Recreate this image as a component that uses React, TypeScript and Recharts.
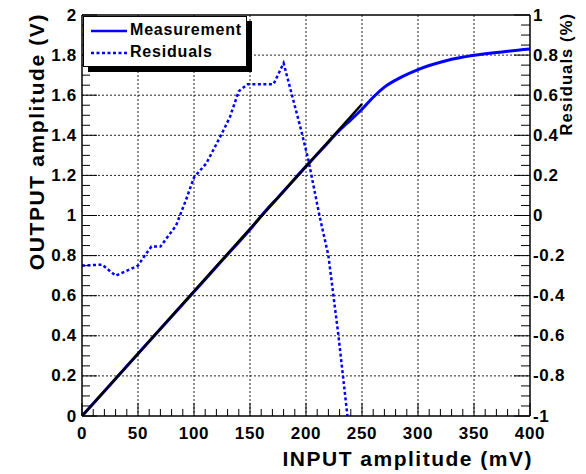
import React from 'react';
import { ComposedChart, Line, XAxis, YAxis, CartesianGrid, ReferenceLine, Legend } from 'recharts';

// ---- data ----
const measurementX = [0, 25, 50, 75, 100, 125, 150, 165, 175, 200, 215, 230, 240, 250, 260, 270, 285, 300, 325, 350, 375, 400];
const measurementY = [0, 0.155, 0.31, 0.465, 0.62, 0.775, 0.93, 1.03, 1.09, 1.245, 1.335, 1.425, 1.477, 1.53, 1.59, 1.64, 1.69, 1.728, 1.772, 1.799, 1.816, 1.83];

const residualX = [0, 18, 30, 50, 56, 62, 70, 84, 93, 100, 111, 125, 132, 140, 148, 171, 180, 195, 202, 212, 220, 229, 237];
const residualY = [-0.25, -0.245, -0.3, -0.25, -0.2, -0.155, -0.155, -0.05, 0.08, 0.19, 0.26, 0.41, 0.49, 0.62, 0.655, 0.655, 0.76, 0.44, 0.28, 0.0, -0.2, -0.6, -1.0];

const fitX = [0, 250];
const fitY = [0, 1.556];

const xMajorTicks = [0, 50, 100, 150, 200, 250, 300, 350, 400];
const yLeftMajorTicks = [0, 0.2, 0.4, 0.6, 0.8, 1, 1.2, 1.4, 1.6, 1.8, 2];
const yRightMajorTicks = [-1, -0.8, -0.6, -0.4, -0.2, 0, 0.2, 0.4, 0.6, 0.8, 1];

const xGridValues = [50, 100, 150, 200, 250, 300, 350];
const yGridValues = [0.2, 0.4, 0.6, 0.8, 1, 1.2, 1.4, 1.6, 1.8];

// minor ticks between majors
const subdivide = (majors: number[], n: number) => {
  const out: number[] = [];
  for (let i = 0; i < majors.length - 1; i++) {
    const a = majors[i];
    const b = majors[i + 1];
    for (let k = 0; k < n; k++) out.push(Math.round((a + ((b - a) * k) / n) * 1000) / 1000);
  }
  out.push(majors[majors.length - 1]);
  return out;
};
const xTicks = subdivide(xMajorTicks, 5);
const yLeftTicks = subdivide(yLeftMajorTicks, 4);
const yRightTicks = subdivide(yRightMajorTicks, 4);

const measurementData = measurementX.map((x, i) => ({ x, y: measurementY[i] }));
const residualData = residualX.map((x, i) => ({ x, r: residualY[i] }));
const fitData = fitX.map((x, i) => ({ x, f: fitY[i] }));

const FONT = '"Liberation Sans", Arial, Helvetica, sans-serif';
const BLUE = '#0000ff';

const isMajor = (v: number, majors: number[]) => majors.some((m) => Math.abs(m - v) < 1e-6);
const fmt = (v: number) => String(Math.round(v * 10) / 10);

const LeftTick = (props: any) => {
  const { x, y, payload } = props;
  const v = payload.value;
  const major = isMajor(v, yLeftMajorTicks);
  return (
    <g>
      <line x1={x} x2={x + (major ? 15 : 8)} y1={y} y2={y} stroke="#000" strokeWidth={1} />
      {major && (
        <text x={x - 5} y={y} textAnchor="end" dominantBaseline="central" fontFamily={FONT} fontWeight="bold" fontSize={17} letterSpacing={0.7} fill="#000">
          {fmt(v)}
        </text>
      )}
    </g>
  );
};

const RightTick = (props: any) => {
  const { x, y, payload } = props;
  const v = payload.value;
  const major = isMajor(v, yRightMajorTicks);
  return (
    <g>
      <line x1={x} x2={x - (major ? 16 : 9)} y1={y} y2={y} stroke="#000" strokeWidth={1} />
      {major && (
        <text x={x + 3} y={y} textAnchor="start" dominantBaseline="central" fontFamily={FONT} fontWeight="bold" fontSize={17} letterSpacing={0.7} fill="#000">
          {fmt(v)}
        </text>
      )}
    </g>
  );
};

const BottomTick = (props: any) => {
  const { x, y, payload } = props;
  const v = payload.value;
  const major = isMajor(v, xMajorTicks);
  return (
    <g>
      <line x1={x} x2={x} y1={y} y2={y - (major ? 13 : 7)} stroke="#000" strokeWidth={1} />
      {major && (
        <text x={x} y={y + 17} textAnchor="middle" dominantBaseline="central" fontFamily={FONT} fontWeight="bold" fontSize={17} letterSpacing={0.7} fill="#000">
          {String(v)}
        </text>
      )}
    </g>
  );
};

const XTitle = () => (
  <text x={533} y={466} textAnchor="end" fontFamily={FONT} fontWeight="bold" fontSize={21} letterSpacing={1.5} fill="#000">
    INPUT amplitude (mV)
  </text>
);

const YLeftTitle = () => (
  <text x={44} y={13} transform="rotate(-90, 44, 13)" textAnchor="end" fontFamily={FONT} fontWeight="bold" fontSize={21} letterSpacing={1.6} fill="#000">
    OUTPUT amplitude (V)
  </text>
);

const YRightTitle = () => (
  <text x={572} y={13} transform="rotate(-90, 572, 13)" textAnchor="end" fontFamily={FONT} fontWeight="bold" fontSize={16.5} letterSpacing={1.1} fill="#000">
    Residuals (%)
  </text>
);

const legendItems = [
  { name: 'Measurement', dash: undefined as string | undefined },
  { name: 'Residuals', dash: '3 2.5' },
];

const renderLegend = () => (
  <div
    style={{
      position: 'relative',
      width: 164,
      height: 51,
      boxSizing: 'border-box',
      border: '1px solid #000',
      background: '#fff',
      boxShadow: '5px 5px 0 #000',
      fontFamily: FONT,
      fontWeight: 'bold',
      fontSize: 16,
      letterSpacing: 0.8,
      color: '#000',
    }}
  >
    {legendItems.map((item, i) => (
      <div key={item.name} style={{ position: 'absolute', left: 0, top: 3 + i * 22, height: 20, width: 162 }}>
        <svg width={40} height={20} style={{ position: 'absolute', left: 5, top: 0 }}>
          <line x1={2} x2={38} y1={11} y2={11} stroke={BLUE} strokeWidth={2.5} strokeDasharray={item.dash} />
        </svg>
        <span style={{ position: 'absolute', left: 46, top: 0, lineHeight: '20px', whiteSpace: 'nowrap' }}>{item.name}</span>
      </div>
    ))}
  </div>
);

export default function App() {
  return (
    <div style={{ position: 'absolute', left: 0, top: 0, background: '#fff' }}>
      <ComposedChart width={586} height={474} margin={{ top: 15, right: 16, bottom: 28, left: 32 }}>
        <CartesianGrid
          xAxisId="x"
          yAxisId="left"
          stroke="#222"
          strokeDasharray="2 2"
          strokeWidth={1}
          horizontalValues={yGridValues}
          verticalValues={xGridValues}
        />
        <XAxis
          xAxisId="x"
          dataKey="x"
          type="number"
          domain={[0, 400]}
          ticks={xTicks}
          interval={0}
          allowDataOverflow
          height={30}
          tickSize={0}
          tickMargin={0}
          tickLine={false}
          axisLine={{ stroke: '#000', strokeWidth: 1.5 }}
          tick={<BottomTick />}
          label={<XTitle />}
        />
        <YAxis
          yAxisId="left"
          orientation="left"
          type="number"
          domain={[0, 2]}
          ticks={yLeftTicks}
          interval={0}
          allowDataOverflow
          width={50}
          tickSize={0}
          tickMargin={0}
          tickLine={false}
          axisLine={{ stroke: '#000', strokeWidth: 1.5 }}
          tick={<LeftTick />}
          label={<YLeftTitle />}
        />
        <YAxis
          yAxisId="right"
          orientation="right"
          type="number"
          domain={[-1, 1]}
          ticks={yRightTicks}
          interval={0}
          allowDataOverflow
          width={40}
          tickSize={0}
          tickMargin={0}
          tickLine={false}
          axisLine={{ stroke: '#000', strokeWidth: 1.5 }}
          tick={<RightTick />}
          label={<YRightTitle />}
        />
        <ReferenceLine xAxisId="x" yAxisId="left" y={2} stroke="#000" strokeWidth={1.5} />
        <Line
          xAxisId="x"
          yAxisId="right"
          data={residualData}
          dataKey="r"
          type="linear"
          stroke={BLUE}
          strokeWidth={2.5}
          strokeDasharray="3 2.5"
          dot={false}
          activeDot={false}
          isAnimationActive={false}
          name="Residuals"
        />
        <Line
          xAxisId="x"
          yAxisId="left"
          data={measurementData}
          dataKey="y"
          type="monotone"
          stroke={BLUE}
          strokeWidth={3}
          dot={false}
          activeDot={false}
          isAnimationActive={false}
          name="Measurement"
        />
        <Line
          xAxisId="x"
          yAxisId="left"
          data={fitData}
          dataKey="f"
          type="linear"
          stroke="#000"
          strokeWidth={2.5}
          dot={false}
          activeDot={false}
          isAnimationActive={false}
          legendType="none"
        />
        <Legend
          layout="horizontal"
          verticalAlign="middle"
          align="center"
          content={renderLegend}
          wrapperStyle={{ position: 'absolute', left: 83, top: 16, width: 170, height: 56 }}
        />
      </ComposedChart>
    </div>
  );
}
